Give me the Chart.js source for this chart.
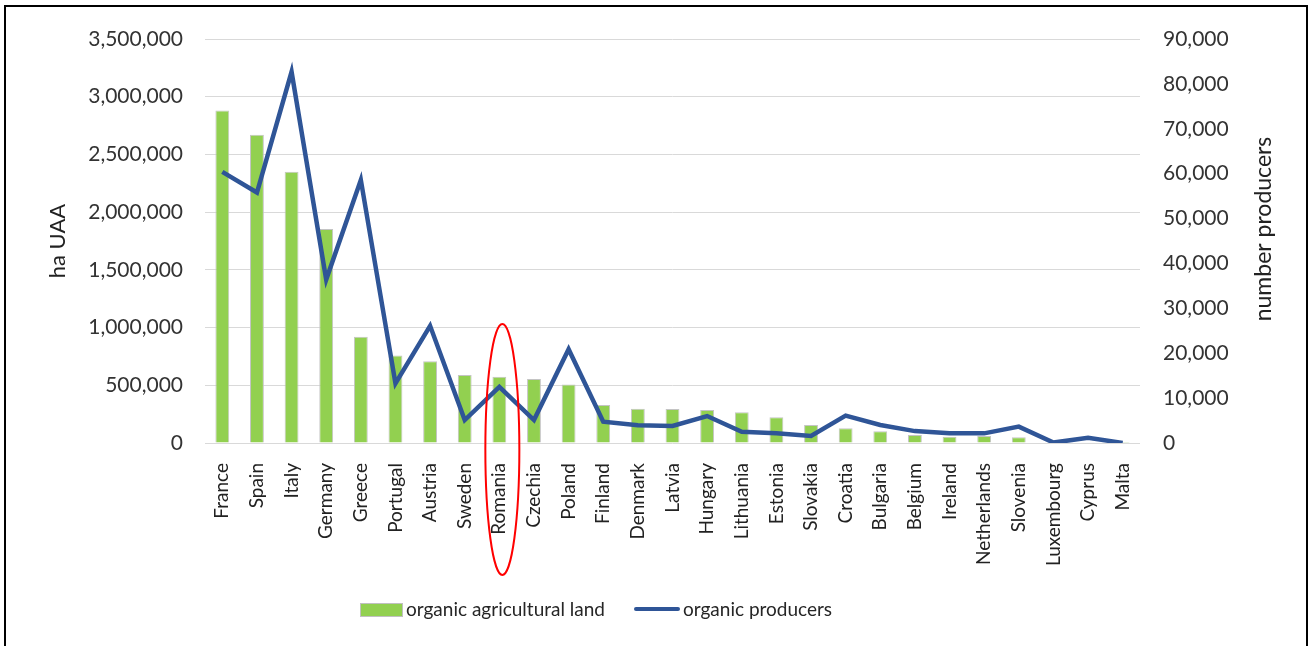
<!DOCTYPE html>
<html>
<head>
<meta charset="utf-8">
<script src="https://cdn.jsdelivr.net/npm/chart.js@4.4.0/dist/chart.umd.min.js"></script>
<style>
  body { margin: 0; background: #fff; font-family: Lato, sans-serif; }
  #wrap { position: absolute; left: 0; top: 0; width: 1312px; height: 646px; }
  #frame { position: absolute; left: 4px; top: 5px; width: 1300px; height: 650px; border: 2px solid #000; pointer-events: none; }
  .leg { position: absolute; font-size: 19px; color: #262626; line-height: 20px; }
  .sw { position: absolute; }
</style>
</head>
<body>
<div id="wrap">
  <canvas id="chart" width="1312" height="646"></canvas>
  <div class="sw" style="left:360px;top:603px;width:41px;height:12px;background:#92d050;border:1px solid #c0c0c0;"></div>
  <div class="leg" style="left:406px;top:599px;">organic agricultural land</div>
  <div class="sw" style="left:634px;top:607px;width:46px;height:4px;background:#2f5597;border-radius:2px;"></div>
  <div class="leg" style="left:683px;top:599px;">organic producers</div>
  <div id="frame"></div>
</div>
<script>
"use strict";

const countries = ["France", "Spain", "Italy", "Germany", "Greece", "Portugal", "Austria", "Sweden", "Romania",
  "Czechia", "Poland", "Finland", "Denmark", "Latvia", "Hungary", "Lithuania", "Estonia", "Slovakia", "Croatia",
  "Bulgaria", "Belgium", "Ireland", "Netherlands", "Slovenia", "Luxembourg", "Cyprus", "Malta"];

// hectares of organic utilised agricultural area
const organicLand = [2880000, 2670000, 2350000, 1855000, 920000, 757000, 708000, 590000, 575000,
  555000, 507000, 330000, 297000, 295000, 286000, 266000, 223000, 157000, 127000,
  101000, 69000, 55000, 61000, 49000, 5000, 6000, 60];

// number of organic producers
const organicProducers = [60400, 55800, 82700, 36400, 58600, 13300, 26100, 5100, 12500,
  5100, 20900, 4750, 3950, 3800, 6000, 2500, 2150, 1550, 6100,
  4000, 2650, 2150, 2150, 3650, 100, 1150, 20];

const highlighted = "Romania";

const fmt = v => Number(v).toLocaleString("en-US");

// red ring round the highlighted country, and the right axis title
// (it reads bottom-to-top in the original, Chart.js would turn it the other way)
const extras = {
  id: "extras",
  afterDatasetsDraw(chart) {
    const ctx = chart.ctx;
    const x = chart.scales.x;
    const y = chart.scales.y;
    const cx = x.getPixelForValue(countries.indexOf(highlighted)) + 3;
    const top = y.getPixelForValue(1030000);
    const bottom = chart.chartArea.bottom + 132;
    ctx.save();
    ctx.strokeStyle = "#ff0000";
    ctx.lineWidth = 2;
    ctx.beginPath();
    ctx.ellipse(cx, (top + bottom) / 2, 17, (bottom - top) / 2, 0, 0, Math.PI * 2);
    ctx.stroke();
    ctx.restore();
  },
  afterDraw(chart) {
    const ctx = chart.ctx;
    ctx.save();
    ctx.translate(1264, 229);
    ctx.rotate(-Math.PI / 2);
    ctx.font = "23px Lato";
    ctx.fillStyle = "#222";
    ctx.textAlign = "center";
    ctx.textBaseline = "middle";
    ctx.fillText("number producers", 0, 0);
    ctx.restore();
  }
};

const ctx = document.getElementById("chart").getContext("2d");
new Chart(ctx, {
  data: {
    labels: countries,
    datasets: [{
      type: "line",
      label: "organic producers",
      data: organicProducers,
      yAxisID: "y1",
      borderColor: "#2f5597",
      borderWidth: 4.5,
      pointRadius: 0,
      tension: 0,
      order: 0
    }, {
      type: "bar",
      label: "organic agricultural land",
      data: organicLand,
      yAxisID: "y",
      backgroundColor: "#92d050",
      borderColor: "#c4c4c4",
      borderWidth: 1,
      barPercentage: 0.4,
      categoryPercentage: 1,
      order: 1
    }]
  },
  options: {
    responsive: false,
    animation: false,
    layout: { padding: { top: 39, left: 0, right: 0, bottom: 0 } },
    plugins: {
      legend: { display: false },
      tooltip: { enabled: false }
    },
    scales: {
      x: {
        grid: { display: false },
        border: { display: false },
        ticks: {
          maxRotation: 90, minRotation: 90, autoSkip: false, padding: 12,
          color: "#222", font: { family: "Lato", size: 19 }
        },
        afterFit(s) { s.height = 203; }
      },
      y: {
        position: "left",
        min: 0, max: 3500000,
        grid: { color: "#d9d9d9", drawTicks: false, lineWidth: 1 },
        border: { display: false },
        ticks: {
          stepSize: 500000, padding: 22, color: "#333",
          font: { family: "Lato", size: 21 },
          callback: v => fmt(v)
        },
        title: {
          display: true, text: "ha UAA", color: "#222",
          font: { family: "Lato", size: 22 },
          padding: { top: 45, bottom: 0 }
        },
        afterFit(s) { s.width = 205; }
      },
      y1: {
        position: "right",
        min: 0, max: 90000,
        grid: { display: false, drawTicks: false },
        border: { display: false },
        ticks: {
          stepSize: 10000, padding: 23, color: "#333",
          font: { family: "Lato", size: 21 },
          callback: v => fmt(v)
        },
        afterFit(s) { s.width = 172; }
      }
    }
  },
  plugins: [extras]
});
</script>
</body>
</html>
